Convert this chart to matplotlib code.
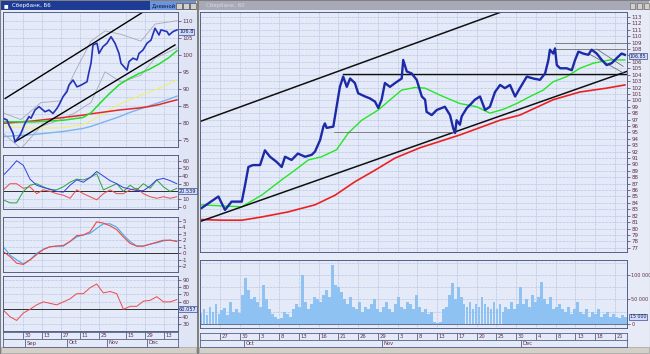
import numpy as np
import matplotlib.pyplot as plt
from matplotlib.patches import Rectangle
from matplotlib.transforms import blended_transform_factory

W, H = 650, 354

# ---------------- left window (daily) ----------------
left_t = [0, 2, 3, 5, 6, 8, 9, 11, 13, 14, 16, 18, 19, 21, 23, 25, 27, 28, 30, 32,
          33, 35, 37, 39, 42, 43, 44, 45, 47, 48, 50, 52, 54, 56, 58, 59, 62, 63, 65,
          67, 68, 70, 72, 74, 76, 78, 79, 82, 83, 85, 87]
left_close = [81.4, 80.9, 79.4, 77.0, 74.5, 76.0, 77.0, 79.9, 81.9, 81.4, 83.8, 84.8,
              84.3, 83.3, 83.8, 82.8, 84.3, 85.3, 87.7, 89.2, 91.1, 92.6, 90.6, 91.1,
              92.1, 95.0, 97.5, 102.9, 103.4, 100.4, 102.4, 103.4, 105.3, 103.4, 100.4,
              97.5, 95.5, 98.0, 99.0, 98.5, 100.4, 101.4, 103.4, 104.3, 107.8, 105.8,
              107.3, 106.8, 105.8, 106.8, 107.3]
ma_t = [0, 15, 30, 40, 44, 48, 53, 58, 63, 68, 73, 78, 83, 87]
left_green = [80.4, 80.3, 80.8, 81.6, 83.0, 85.5, 88.5, 91.2, 93.0, 94.5, 95.7, 97.3, 99.2, 101.2]
left_red = [79.9, 80.6, 81.6, 82.3, 82.7, 83.0, 83.4, 83.8, 84.1, 84.4, 84.8, 85.4, 86.2, 86.8]
left_yellow = [78.9, 78.5, 78.6, 79.6, 80.6, 82.0, 83.8, 85.4, 86.8, 87.9, 89.0, 90.2, 91.5, 92.6]
left_lblue = [76.0, 76.6, 77.5, 78.4, 79.0, 79.8, 80.8, 81.8, 83.0, 84.0, 85.0, 86.0, 87.0, 87.9]
band_t = [0, 9, 19, 29, 36, 44, 51, 59, 69, 76, 87]
left_upper = [83.0, 81.0, 86.0, 86.5, 95.0, 104.0, 107.0, 106.0, 104.0, 109.0, 110.0]
left_lower = [77.0, 72.5, 79.0, 81.0, 83.0, 86.0, 95.0, 92.0, 94.0, 99.0, 102.0]

ind_t = np.linspace(0.15, 86.9, 27)
adx_blue = [41, 50, 60, 54, 36, 28, 25, 23, 20, 19, 28, 35, 32, 38, 46, 40, 34, 30, 25,
            23, 21, 21, 27, 35, 37, 34, 30]
adx_green = [9, 5, 5, 20, 28, 30, 26, 22, 22, 26, 32, 36, 35, 38, 43, 22, 26, 30, 20,
             28, 22, 30, 24, 35, 26, 20, 24]
adx_red = [22, 30, 30, 24, 26, 17, 22, 20, 17, 15, 11, 22, 17, 13, 9, 17, 22, 17, 17,
           22, 24, 17, 13, 11, 13, 11, 13]
macd_red = [0.25, -0.5, -1.5, -1.7, -1.0, -0.2, 0.6, 1.0, 1.1, 1.2, 1.8, 2.7, 2.8, 3.3,
            4.8, 4.6, 4.2, 3.6, 2.5, 1.5, 1.1, 1.1, 1.4, 1.7, 2.0, 2.0, 1.8]
macd_blue = [1.0, -0.26, -1.0, -1.6, -1.0, 0.0, 0.6, 1.0, 1.1, 1.1, 1.8, 2.5, 2.8, 3.05,
             3.8, 4.5, 4.5, 4.0, 2.8, 1.8, 1.1, 1.1, 1.4, 1.6, 1.9, 2.0, 1.9]
rsi = [49, 40, 35, 45, 50, 56, 60, 58, 56, 60, 64, 71, 71, 79, 84, 72, 74, 71, 50, 54,
       54, 61, 62, 67, 60, 60, 63]

left_days = ['30', '13', '27', '11', '25', '15', '29', '13']
left_day_pos = [10, 19.5, 29, 38.5, 48, 61.5, 71, 80.5]
left_months = ['Sep', 'Oct', 'Nov', 'Dec']
left_month_pos = [11, 32, 52, 72]

# ---------------- right window (intraday) ----------------
right_t = [0.2, 5.8, 8, 10.2, 13.6, 14.7, 15.8, 17.3, 19.7, 21.3, 23, 25.2, 26.9, 28,
           30.2, 32.3, 34.7, 36.9, 38, 39.7, 40.8, 41.3, 41.9, 44.1, 45.2, 46.3, 47.4,
           48.6, 49.7, 51.3, 52.4, 54.7, 56.3, 58, 59.1, 60.2, 61.3, 63, 64.7, 66.9,
           67.4, 68.6, 70.2, 71.9, 73.6, 74.7, 75.2, 76.9, 78.6, 81.3, 83, 84.1, 84.7,
           85.2, 86.3, 86.9, 88.6, 89.7, 91.3, 93, 94.7, 96.3, 98, 99.7, 101.3, 103,
           104.7, 106.3, 108.6, 110.8, 113, 114.7, 115.8, 116.3, 117.4, 118, 118.6,
           119.7, 121.9, 123.6, 124.7, 125.8, 127.4, 129.1, 130.2, 131.9, 133.6, 135.2,
           136.9, 138.6, 140.2, 141.3]
right_close = [83.2, 85.0, 82.9, 84.2, 84.2, 86.8, 89.6, 89.9, 89.9, 92.2, 91.2, 90.4,
               89.6, 91.2, 90.7, 91.7, 91.2, 91.5, 92.0, 93.8, 95.9, 96.4, 95.7, 95.9,
               99.0, 102.1, 103.7, 102.1, 103.4, 102.7, 101.1, 100.6, 100.3, 99.8, 98.8,
               100.1, 102.7, 102.1, 102.7, 103.4, 106.3, 104.5, 104.2, 103.2, 100.6,
               100.1, 98.2, 97.7, 98.5, 99.0, 97.7, 95.6, 94.9, 96.9, 96.2, 97.5, 98.8,
               99.3, 100.1, 100.6, 98.5, 99.0, 101.3, 102.4, 101.9, 102.4, 100.6, 101.9,
               103.7, 103.4, 103.2, 104.2, 106.3, 107.9, 107.3, 108.1, 105.5, 105.0,
               105.0, 104.7, 106.3, 107.6, 107.3, 107.1, 107.9, 107.3, 106.3, 105.5,
               105.8, 106.6, 107.3, 107.1]
green_t = [0, 8, 13.6, 20.2, 26.9, 31.3, 35.8, 40.2, 45.2, 49.1, 53.6, 59.1, 63.6, 66.9,
           71.3, 74.7, 79.7, 86.3, 91.9, 96.3, 100.8, 105.2, 109.7, 114.1, 117.4, 121.9,
           126.3, 130.8, 136.3, 141.3]
right_green = [83.7, 83.5, 83.4, 85.2, 87.6, 89.1, 90.7, 91.2, 92.3, 94.9, 96.9, 98.5,
               100.3, 101.6, 102.0, 101.9, 100.8, 99.5, 99.0, 98.0, 98.6, 99.5, 100.6,
               101.6, 102.9, 103.7, 105.0, 105.8, 106.3, 106.3]
red_t = [0.2, 6.9, 13.6, 20.2, 29.1, 38, 44.7, 51.3, 58, 64.7, 73, 86.3, 99.7, 106.3,
         117.4, 126.3, 135.2, 141.3]
right_red = [81.4, 81.3, 81.3, 81.8, 82.6, 83.7, 85.2, 87.3, 89.1, 91.0, 92.6, 94.6,
             96.9, 97.7, 100.1, 101.3, 101.9, 102.4]
volume = [22, 30, 18, 35, 25, 40, 20, 28, 33, 18, 45, 25, 30, 22,
          60, 94, 70, 50, 55, 45, 35, 80, 50,
          30, 20, 15, 10, 12, 25, 20, 15,
          30, 40, 35, 100, 45, 30, 40, 55,
          50, 45, 60, 70, 55, 120, 80, 75, 65, 50,
          40, 55, 35, 30, 45, 25, 35, 30, 40, 50, 30, 25,
          35, 45, 30, 25, 40, 55, 35, 30, 45, 40, 30, 60, 35,
          25, 30, 20, 25, 4, 3, 5,
          30, 35, 60, 84, 50, 75, 55, 40, 35, 45, 30, 40, 35,
          55, 40, 35, 30, 45, 30, 40, 25, 35, 30, 45, 30, 40,
          75, 40, 50, 35, 60, 45, 55, 86, 50, 40, 55, 30, 35, 40,
          30, 25, 35, 20, 30, 45, 25, 20, 30, 15, 25, 20, 30, 15, 20, 25, 15, 20, 15, 12, 18, 15]

right_days = ['27', '30', '3', '8', '13', '16', '21', '26', '29', '3', '8', '13', '17',
              '20', '25', '30', '4', '8', '13', '18', '21']
right_months = ['Oct', 'Nov', 'Dec']
right_month_pos = [14.3, 60.3, 106.7]

BG = '#e4eaf8'
GRID = '#a9b6dc'
LBL = '#603048'


def px_axes(x0, y0, x1, y1, **kw):
    return fig.add_axes([x0 / W, 1 - y1 / H, (x1 - x0) / W, (y1 - y0) / H], **kw)


def style(ax, xlim, ylim, yticks, ylabels=None, xgrid=None, ygrid=None, skip=None):
    ax.set_facecolor(BG)
    ax.set_xlim(*xlim)
    ax.set_ylim(*ylim)
    ax.yaxis.tick_right()
    ax.set_yticks(yticks)
    if ylabels is None:
        ylabels = ['%g' % v for v in yticks]
    # the value tag covers the tick label at its level
    ylabels = ['' if (skip is not None and abs(v - skip) < 0.6) else l
               for v, l in zip(yticks, ylabels)]
    ax.set_yticklabels(ylabels)
    ax.set_xticks([])
    ax.tick_params(axis='y', labelsize=4, colors=LBL, length=2, pad=1, width=0.5)
    for s in ax.spines.values():
        s.set_color('#55608a')
        s.set_linewidth(0.7)
    for g in (xgrid if xgrid is not None else []):
        ax.axvline(g, color=GRID, lw=0.5, ls=(0, (1, 1)), zorder=0)
    for g in (ygrid if ygrid is not None else yticks):
        ax.axhline(g, color=GRID, lw=0.5, ls=(0, (1, 1)), zorder=0)


def tag(ax, y, text, fs=3.6):
    tr = blended_transform_factory(ax.transAxes, ax.transData)
    ax.text(1.006, y, text, transform=tr, fontsize=fs, color='#1a1a40', va='center',
            ha='left', bbox=dict(boxstyle='square,pad=0.12', fc='#cfdcff', ec='#3a4a90', lw=0.5))


def date_rows(y0, y1, y2, x0, x1, xlim, dpos, dlab, mpos, mlab):
    for (ya, yb, pos, lab) in ((y0, y1, dpos, dlab), (y1, y2, mpos, mlab)):
        a = px_axes(x0, ya, x1, yb)
        a.set_facecolor(BG)
        a.set_xlim(*xlim)
        a.set_ylim(0, 1)
        a.set_xticks([])
        a.set_yticks([])
        for s in a.spines.values():
            s.set_color('#55608a')
            s.set_linewidth(0.6)
        for p, l in zip(pos, lab):
            a.axvline(p, color='#55608a', lw=0.6)
            a.annotate(l, (p, 0.5), xytext=(1.2, 0), textcoords='offset points',
                       fontsize=3.8, color=LBL, va='center', ha='left')


fig = plt.figure(figsize=(W / 100, H / 100), dpi=100, facecolor='#d4d0c8')

# window chrome in pixel coordinates
chrome = fig.add_axes([0, 0, 1, 1], zorder=-10)
chrome.set_xlim(0, W)
chrome.set_ylim(H, 0)
chrome.axis('off')
chrome.add_patch(Rectangle((0, 0), 197, 354, fc='#e6ebf7', ec='#808080', lw=0.8))
chrome.add_patch(Rectangle((198, 0), 452, 354, fc='#e6ebf7', ec='#808080', lw=0.8))
chrome.add_patch(Rectangle((1, 1), 195, 9, fc='#1e3c96', ec='none'))
chrome.add_patch(Rectangle((150, 1), 46, 9, fc='#6c94d8', ec='none'))
chrome.add_patch(Rectangle((199, 1), 450, 9, fc='#a7a9b6', ec='none'))
for bx in (176, 183, 190):
    chrome.add_patch(Rectangle((bx, 2.5), 6, 6, fc='#d4d0c8', ec='#404040', lw=0.4))
for bx in (630, 637, 644):
    chrome.add_patch(Rectangle((bx, 2.5), 5, 6, fc='#d4d0c8', ec='#606060', lw=0.4))
chrome.add_patch(Rectangle((1, 347), 195, 6, fc='#d4d0c8', ec='#909090', lw=0.4))
chrome.add_patch(Rectangle((199, 347), 450, 6, fc='#d4d0c8', ec='#909090', lw=0.4))
chrome.add_patch(Rectangle((178, 12), 19, 335, fc='#dfe5f4', ec='none'))
chrome.text(4, 5.5, '■', fontsize=3.5, color='white', va='center')
chrome.text(12, 5.5, 'Сбербанк, Б6', fontsize=4, color='white', va='center')
chrome.text(152, 5.5, 'Дневной', fontsize=3.8, color='#0a1a50', va='center')
chrome.text(206, 5.5, 'Сбербанк, 60', fontsize=4, color='#d8d8e0', va='center')

# ---- left price panel
lx = (0, 87.5)
lgrid = left_day_pos
ax = px_axes(3, 12, 178, 147)
style(ax, lx, (72.96, 112.55), [75, 80, 85, 90, 95, 100, 105, 110], xgrid=lgrid,
      ygrid=np.arange(72.5, 112.6, 2.5))
ax.plot(band_t, left_upper, color='#a8a8b8', lw=0.6)
ax.plot(band_t, left_lower, color='#a8a8b8', lw=0.6)
ax.plot(ma_t, left_lblue, color='#7ab4f0', lw=1.0)
ax.plot(ma_t, left_yellow, color='#f0f070', lw=0.8)
ax.plot(ma_t, left_red, color='#e82828', lw=1.1)
ax.plot(ma_t, left_green, color='#22e022', lw=1.1)
ax.plot([1.1, 70.2], [87.2, 112.6], color='black', lw=1.0)
ax.plot([6, 86], [74.5, 102.9], color='black', lw=1.0)
ax.plot(left_t, left_close, color='#2434b8', lw=1.2)
tag(ax, 106.8, '106.8')

# ---- ADX panel
ax = px_axes(3, 155, 178, 209)
style(ax, lx, (-3, 67.5), [0, 10, 20, 30, 40, 50, 60], xgrid=lgrid, skip=20)
ax.axhline(20, color='#303030', lw=0.7)
ax.plot(ind_t, adx_red, color='#f04848', lw=0.7)
ax.plot(ind_t, adx_green, color='#30a040', lw=0.7)
ax.plot(ind_t, adx_blue, color='#3040e0', lw=0.7)
tag(ax, 20, '20.539')

# ---- MACD panel
ax = px_axes(3, 217, 178, 272)
style(ax, lx, (-2.85, 5.54), [-2, -1, 0, 1, 2, 3, 4, 5], xgrid=lgrid)
ax.axhline(0, color='#303030', lw=0.7)
ax.plot(ind_t, macd_blue, color='#48a8f0', lw=0.8)
ax.plot(ind_t, macd_red, color='#f04848', lw=0.8)

# ---- RSI panel
ax = px_axes(3, 276, 178, 331)
style(ax, lx, (20.8, 94.8), [30, 40, 50, 60, 70, 80, 90], xgrid=lgrid, skip=50)
ax.axhline(50, color='#303030', lw=0.7)
ax.plot(ind_t, rsi, color='#f04848', lw=0.7)
tag(ax, 50, '60.057')

date_rows(332, 339, 347, 3, 178, lx, left_day_pos, left_days, left_month_pos, left_months)

# ---- right price panel
rx = (-0.33, 142)
rticks = np.linspace(6.3, 138, 21)
ax = px_axes(200, 12, 627, 252)
style(ax, rx, (76.34, 113.78), np.arange(77, 114), xgrid=rticks, skip=106.85)
ax.plot(red_t, right_red, color='#ee2020', lw=1.2)
ax.plot(green_t, right_green, color='#22e822', lw=1.0)
ax.plot([-0.3, 100.2], [96.7, 113.8], color='#101010', lw=1.1)
ax.plot([-0.3, 141.9], [81.1, 104.5], color='#101010', lw=1.1)
ax.plot([47.4, 142], [104.1, 104.1], color='#101010', lw=1.0)
ax.plot([44.3, 84.7], [95.0, 95.0], color='#606060', lw=0.5)
ax.plot([118, 142], [108.9, 108.9], color='#707070', lw=0.6)
ax.plot([118, 141.5], [108.0, 108.0], color='#707070', lw=0.6)
ax.plot([131.9, 140.7], [108.0, 105.3], color='#707070', lw=0.6)
ax.plot([129.1, 140.7], [107.3, 104.3], color='#707070', lw=0.6)
ax.plot(right_t, right_close, color='#1c2aa8', lw=1.7)
tag(ax, 106.85, '106.85', fs=3.4)

# ---- volume panel
ax = px_axes(200, 260, 627, 328)
style(ax, rx, (-8.2, 130.6), [0, 50, 100], ['0', '50 000', '100 000'], xgrid=rticks,
      ygrid=[0, 25, 50, 75, 100, 125], skip=15)
ax.tick_params(axis='y', labelsize=3.5)
vx = np.linspace(0, 141.5, len(volume))
ax.bar(vx, volume, width=0.95, color='#8ec2f2', edgecolor='none')
ax.axhline(0, color='#55608a', lw=0.6)
tag(ax, 15, '15 000', fs=3.4)

date_rows(333, 340, 347, 200, 627, rx, rticks, right_days, right_month_pos, right_months)

fig.savefig('out.png', dpi=100, facecolor=fig.get_facecolor())
